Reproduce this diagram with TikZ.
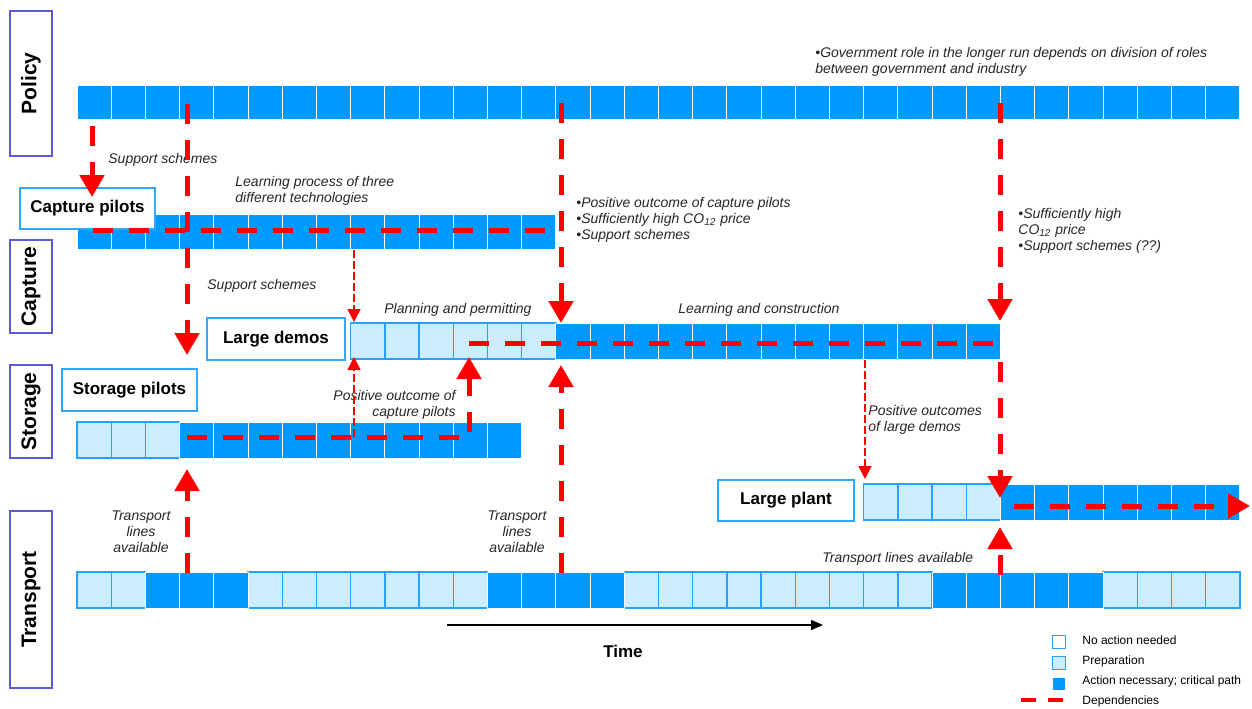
\documentclass[tikz,border=0pt]{standalone}
\usepackage{fontspec}
\setmainfont{Liberation Sans}
\usetikzlibrary{arrows.meta}

\definecolor{actblue}{RGB}{0,153,255}
\definecolor{prepfill}{RGB}{204,236,255}
\definecolor{prepline}{RGB}{40,160,255}
\definecolor{catline}{RGB}{90,90,214}
\definecolor{labline}{RGB}{51,166,255}
\definecolor{depred}{RGB}{255,0,0}

\tikzset{
  actcell/.style={fill=actblue, draw=white, line width=0.5pt},
  prepcell/.style={fill=prepfill, draw=prepline, line width=0.7pt},
  catbox/.style={draw=catline, line width=0.7pt, rotate=90, minimum height=21pt, inner sep=0pt, font=\fontsize{10.5}{12}\selectfont\bfseries},
  labbox/.style={draw=labline, fill=white, line width=0.8pt, minimum width=67.5pt, minimum height=20.5pt, font=\fontsize{8.5}{10}\selectfont\bfseries},
  note/.style={font=\fontsize{7}{8}\selectfont\itshape, text=black!85, inner sep=0pt, align=left},
  legtext/.style={font=\fontsize{6}{7}\selectfont, inner sep=0pt, anchor=west},
  depline/.style={draw=depred, line width=2.5pt, dash pattern=on 10pt off 8pt},
  dep/.style={depline, -{Triangle[width=12pt,length=11pt]}},
  thindep/.style={draw=depred, line width=0.75pt, dash pattern=on 4pt off 1.5pt, -{Triangle[width=6.5pt,length=6.5pt]}},
}

\begin{document}
\begin{tikzpicture}[x=0.5pt,y=-0.5pt]
\useasboundingbox (0,0) rectangle (1252,708);

% rows of cells
\foreach \i in {0,...,33} \draw[actcell] ({77+34.2*\i},85) rectangle ++(34.2,34); % policy
\foreach \i in {0,...,13} \draw[actcell] ({77+34.2*\i},214) rectangle ++(34.2,35); % capture pilots
\foreach \i in {8,...,13} \draw[prepcell] ({77+34.2*\i},323) rectangle ++(34.2,36); % large demos
\foreach \i in {14,...,26} \draw[actcell] ({77+34.2*\i},323) rectangle ++(34.2,36);
\foreach \i in {0,...,2} \draw[prepcell] ({77+34.2*\i},422) rectangle ++(34.2,36); % storage pilots
\foreach \i in {3,...,12} \draw[actcell] ({77+34.2*\i},422) rectangle ++(34.2,36);
\foreach \i in {23,...,26} \draw[prepcell] ({77+34.2*\i},484) rectangle ++(34.2,36); % large plant
\foreach \i in {27,...,33} \draw[actcell] ({77+34.2*\i},484) rectangle ++(34.2,36);
\foreach \i in {0,1,5,6,...,11,16,17,...,24,30,31,32,33} \draw[prepcell] ({77+34.2*\i},572) rectangle ++(34.2,36); % transport
\foreach \i in {2,3,4,12,13,14,15,25,26,...,29} \draw[actcell] ({77+34.2*\i},572) rectangle ++(34.2,36);

% categories
\node[catbox, minimum width=72.5pt] (polbox) at (31,83.5) {Policy};
\node[catbox, minimum width=46.5pt] (capbox) at (31,286.5) {Capture};
\node[catbox, minimum width=46.5pt] (stobox) at (31,411.5) {Storage};
\node[catbox, minimum width=88.5pt] (trabox) at (31,599.5) {Transport};

% stages
\node[labbox] (cappil) at (87.5,208.5) {Capture pilots};
\node[labbox, minimum width=69pt, minimum height=21pt] (lgdemo) at (276,339) {Large demos};
\node[labbox, minimum height=21pt] (stopil) at (129.5,390) {Storage pilots};
\node[labbox, minimum width=68pt] (lgplant) at (786,500.5) {Large plant};

% notes
\node[note, anchor=west] (gov) at (815,61.5) {\textbullet Government role in the longer run depends on division of roles\\between government and industry};
\node[note, anchor=west] (sup1) at (108,160) {Support schemes};
\node[note, anchor=west] (learn) at (235,191) {Learning process of three\\different technologies};
\node[note, anchor=west] (sup2) at (207,286) {Support schemes};
\node[note, anchor=west] (plan) at (384,310) {Planning and permitting};
\node[note, anchor=west] (constr) at (678,310) {Learning and construction};
\node[note, anchor=west] (cond1) at (576,220) {\textbullet Positive outcome of capture pilots\\\textbullet Sufficiently high CO\textsubscript{12} price\\\textbullet Support schemes};
\node[note, anchor=west] (cond2) at (1018,230.5) {\textbullet Sufficiently high\\CO\textsubscript{12} price\\\textbullet Support schemes (??)};
\node[note, anchor=east, align=right] (poscap) at (456,405) {Positive outcome of\\capture pilots};
\node[note, anchor=west] (posdem) at (868,419.5) {Positive outcomes\\of large demos};
\node[note, align=center] (tra1) at (141,532) {Transport\\lines\\available};
\node[note, align=center] (tra2) at (517,532) {Transport\\lines\\available};
\node[note, anchor=west] (tra3) at (822,559) {Transport lines available};

% dependencies
\coordinate (d1a) at (92,126);     \coordinate (d1b) at (92,197);
\coordinate (d2a) at (187,104);    \coordinate (d2b) at (187,355);
\coordinate (d3a) at (93,230.5);   \coordinate (d3b) at (551,230.5);
\coordinate (d4a) at (354,250);    \coordinate (d4b) at (354,322);
\coordinate (d5a) at (354,437);    \coordinate (d5b) at (354,357);
\coordinate (d6a) at (187,437.5);  \coordinate (d6b) at (469,357);
\coordinate (d7a) at (469,343.5);  \coordinate (d7b) at (999,343.5);
\coordinate (d8a) at (561,103);    \coordinate (d8b) at (561,323);
\coordinate (d9a) at (561,573);    \coordinate (d9b) at (561,365);
\coordinate (d10a) at (1000,103);  \coordinate (d10b) at (1000,321);
\coordinate (d11a) at (1000,362);  \coordinate (d11b) at (1000,498);
\coordinate (d12a) at (1000,575);  \coordinate (d12b) at (1000,527);
\coordinate (d13a) at (187,573);   \coordinate (d13b) at (187,469);
\coordinate (d14a) at (865,360);   \coordinate (d14b) at (865,479);
\coordinate (d15a) at (1014,506);  \coordinate (d15b) at (1250,506);

\draw[depline] (d3a) -- (d3b);
\draw[depline] (d7a) -- (d7b);
\draw[thindep] (d4a) -- (d4b);
\draw[thindep] (d5a) -- (d5b);
\draw[thindep] (d14a) -- (d14b);
\draw[dep] (d1a) -- (d1b);
\draw[dep] (d2a) -- (d2b);
\draw[dep] (d6a) -| (d6b);
\draw[dep] (d8a) -- (d8b);
\draw[dep] (d9a) -- (d9b);
\draw[dep] (d10a) -- (d10b);
\draw[dep] (d11a) -- (d11b);
\draw[dep] (d12a) -- (d12b);
\draw[dep] (d13a) -- (d13b);
\draw[dep] (d15a) -- (d15b);

% time axis
\coordinate (t0) at (447,625); \coordinate (t1) at (823,625);
\draw[line width=0.65pt, -{Triangle[width=5pt,length=6pt]}] (t0) -- (t1);
\node[font=\fontsize{8.5}{10}\selectfont\bfseries] (time) at (623,651) {Time};

% legend
\node[draw=prepline, fill=white, line width=0.7pt, minimum size=6.5pt, inner sep=0pt] (lg1) at (1059,642) {};
\node[draw=prepline, fill=prepfill, line width=0.7pt, minimum size=6.5pt, inner sep=0pt] (lg2) at (1059,663) {};
\node[fill=actblue, minimum size=6pt, inner sep=0pt] (lg3) at (1059,683.5) {};
\coordinate (lg4a) at (1021,700); \coordinate (lg4b) at (1064,700);
\draw[depline, line width=2pt, dash pattern=on 7.5pt off 6pt] (lg4a) -- (lg4b);
\node[legtext] (lt1) at (1082,640) {No action needed};
\node[legtext] (lt2) at (1082,661) {Preparation};
\node[legtext] (lt3) at (1082,681) {Action necessary; critical path};
\node[legtext] (lt4) at (1082,701) {Dependencies};
\end{tikzpicture}
\end{document}
